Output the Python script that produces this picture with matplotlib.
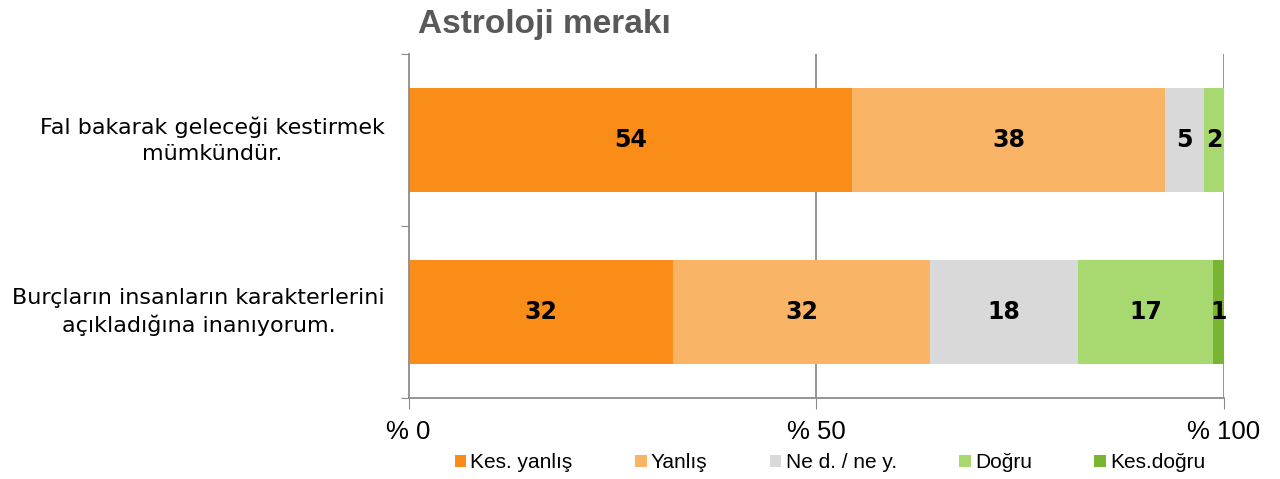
import matplotlib
matplotlib.use("Agg")
import matplotlib.pyplot as plt
from matplotlib.patches import Patch
from matplotlib.transforms import blended_transform_factory

categories = ["Fal bakarak geleceği kestirmek\nmümkündür.",
              "Burçların insanların karakterlerini\naçıkladığına inanıyorum."]
series_names = ["Kes. yanlış", "Yanlış", "Ne d. / ne y.", "Doğru", "Kes.doğru"]
values = [
    [54.4, 32.4],   # Kes. yanlış
    [38.4, 31.6],   # Yanlış
    [4.8, 18.1],    # Ne d. / ne y.
    [2.4, 16.6],    # Doğru
    [0.0, 1.3],     # Kes.doğru
]
labels = [
    ["54", "32"],
    ["38", "32"],
    ["5", "18"],
    ["2", "17"],
    ["", "1"],
]
colors = ["#F98D17", "#FAB466", "#D9D9D9", "#A7D970", "#78B530"]
xticks = [0, 50, 100]
xticklabels = ["% 0", "% 50", "% 100"]

W, H = 1280, 479
fig = plt.figure(figsize=(12.8, 4.79), dpi=100)
ax = fig.add_axes([408.5/W, 1-398/H, (1224-408.5)/W, (398-54)/H])

ypos = [1, 0]
left = [0.0, 0.0]
for vals, labs, col in zip(values, labels, colors):
    ax.barh(ypos, vals, left=left, height=0.605, color=col, zorder=2)
    for y, v, l0, lab in zip(ypos, vals, left, labs):
        if lab:
            ax.text(l0 + v / 2, y, lab, ha="center", va="center", fontsize=17,
                    fontweight="bold", color="black", zorder=3,
                    family="DejaVu Sans")
    left = [a + b for a, b in zip(left, vals)]

ax.set_xlim(0, 100)
ax.set_ylim(-0.5, 1.5)
ax.set_yticks([-0.5, 0.5, 1.5])
ax.set_yticklabels([])
trans = blended_transform_factory(fig.transFigure, ax.transData)
for y, cat in zip(ypos, categories):
    ax.text(385/W, y, cat, transform=trans, ha="right", va="center",
            fontsize=16, family="DejaVu Sans", color="black",
            multialignment="center", linespacing=1.4)

ax.set_xticks(xticks)
ax.set_xticklabels(xticklabels, fontsize=18.5, family="Liberation Sans")
ax.tick_params(axis="x", length=8, color="#8C8C8C", pad=8)
ax.tick_params(axis="y", length=6, color="#8C8C8C", direction="out")
for x in [50, 100]:
    ax.axvline(x, color="#8C8C8C", lw=1.3, zorder=1)
for s in ["top", "right"]:
    ax.spines[s].set_visible(False)
for s in ["left", "bottom"]:
    ax.spines[s].set_color("#8C8C8C")
    ax.spines[s].set_linewidth(1.3)

fig.text(418/W, 1-33/H, "Astroloji merakı", fontsize=24, fontweight="bold",
         color="#595959", ha="left", va="baseline", family="Liberation Sans")

handles = [Patch(facecolor=c, edgecolor="none") for c in colors]
fig.legend(handles, series_names, loc="center", bbox_to_anchor=(830/W, 1-463/H),
           ncol=5, frameon=False, prop={"family": "Liberation Sans", "size": 15},
           handlelength=0.55, handleheight=0.55, handletextpad=0.2,
           columnspacing=3.0)

fig.savefig("out.png", dpi=100)
